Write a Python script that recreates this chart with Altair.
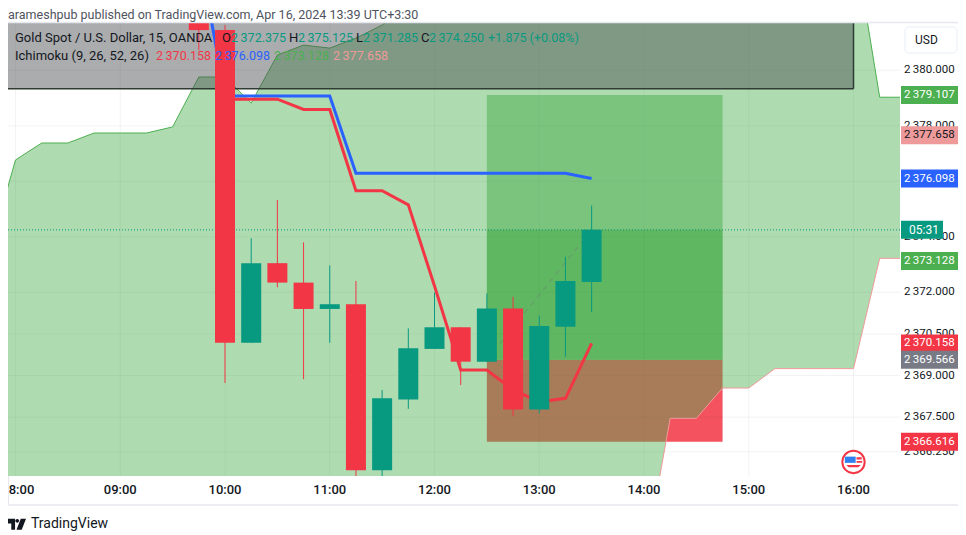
import altair as alt
import pandas as pd

# ---- data -------------------------------------------------------------
candle_time = [9.75, 10.0, 10.25, 10.5, 10.75, 11.0, 11.25, 11.5, 11.75, 12.0, 12.25, 12.5, 12.75, 13.0, 13.25, 13.5]
candle_top = [2382.2, 2381.45, 2373.05, 2373.05, 2372.35, 2371.57, 2371.57, 2368.18, 2369.98, 2370.74, 2370.74, 2371.42, 2371.42, 2370.79, 2372.41, 2374.25]
candle_bot = [2381.45, 2370.18, 2370.18, 2372.35, 2371.40, 2371.40, 2365.59, 2365.59, 2368.14, 2369.96, 2369.50, 2369.50, 2367.78, 2367.78, 2370.76, 2372.375]
candle_high = [2382.4, 2381.63, 2373.95, 2375.33, 2373.80, 2372.97, 2372.41, 2368.48, 2370.70, 2371.99, 2370.74, 2371.96, 2371.84, 2371.16, 2373.28, 2375.125]
candle_low = [2380.73, 2368.73, 2370.18, 2372.18, 2368.87, 2370.18, 2365.2, 2365.2, 2367.80, 2369.96, 2368.66, 2369.50, 2367.54, 2367.64, 2369.68, 2371.285]
candle_dir = ["down", "down", "up", "down", "down", "up", "down", "up", "up", "up", "down", "up", "down", "up", "up", "up"]

cloud_time = [7.75, 8.0, 8.25, 8.5, 8.75, 9.0, 9.25, 9.5, 9.75, 10.0, 10.25, 10.5, 10.75, 11.0, 11.25, 11.5,
              11.75, 12.0, 12.25, 12.5, 12.75, 13.0, 13.25, 13.5, 13.75, 14.0, 14.25, 14.5, 14.75, 15.0,
              15.25, 15.5, 15.75, 16.0, 16.25, 16.5]
span_a = [2373.45, 2376.77, 2377.38, 2377.38, 2377.74, 2377.74, 2377.74, 2377.96, 2379.76, 2379.76, 2378.82, 2380.55,
          2380.91, 2380.80, 2381.16, 2381.63, 2382.4, 2383.0, 2383.0, 2383.0, 2383.0, 2383.0, 2383.0, 2383.0, 2383.0,
          2383.0, 2383.0, 2383.0, 2383.0, 2383.0, 2383.0, 2383.0, 2383.0, 2384.8, 2379.03, 2379.03]
span_b = [2362.0, 2362.0, 2362.0, 2362.0, 2362.0, 2362.0, 2362.0, 2362.0, 2362.0, 2362.0, 2362.0, 2362.0,
          2362.0, 2362.0, 2362.0, 2362.0, 2362.0, 2362.0, 2362.0, 2362.0, 2362.0, 2362.0, 2362.0, 2362.0, 2362.0,
          2362.2, 2367.46, 2367.46, 2368.55, 2368.55, 2369.25, 2369.25, 2369.25, 2369.25, 2373.225, 2373.225]

kijun_time = [9.75, 10.0, 10.25, 10.5, 10.75, 11.0, 11.25, 11.5, 11.75, 12.0, 12.25, 12.5, 12.75, 13.0, 13.25, 13.5]
kijun = [2384.3, 2379.07, 2379.07, 2379.07, 2379.07, 2379.07, 2376.29, 2376.29, 2376.29, 2376.29, 2376.29, 2376.29, 2376.29, 2376.29, 2376.29, 2376.098]
tenkan_time = [10.0, 10.25, 10.5, 10.75, 11.0, 11.25, 11.5, 11.75, 12.0, 12.25, 12.5, 12.75, 13.0, 13.25, 13.5]
tenkan = [2378.96, 2378.96, 2378.96, 2378.59, 2378.59, 2375.66, 2375.66, 2375.15, 2372.23, 2369.20, 2369.20, 2368.48, 2368.05, 2368.18, 2370.158]

hours = [8, 9, 10, 11, 12, 13, 14, 15, 16]
hour_labels = ["8:00", "09:00", "10:00", "11:00", "12:00", "13:00", "14:00", "15:00", "16:00"]
price_ticks = [2380.0, 2378.0, 2376.0, 2374.0, 2372.0, 2370.5, 2369.0, 2367.5, 2366.25]
price_labels = ["2\u2009380.000", "2\u2009378.000", "2\u2009376.000", "2\u2009374.000", "2\u2009372.000",
                "2\u2009370.500", "2\u2009369.000", "2\u2009367.500", "2\u2009366.250"]

pos_start, pos_end = 12.5, 14.75
entry, target, stop, last = 2369.566, 2379.107, 2366.616, 2374.25
box_left, box_right, box_top, box_bottom = 7.5, 16.0, 2382.5, 2379.337
event_time, event_price = 16.0, 2365.885

tag_prices = [2379.107, 2377.658, 2376.098, 2373.128, 2370.158, 2369.566, 2366.616]
tag_bg = ["#4CAF50", "#EF9A9A", "#2962FF", "#4CAF50", "#F23645", "#787B86", "#F23645"]
tag_fg = ["#FFFFFF", "#131722", "#FFFFFF", "#FFFFFF", "#FFFFFF", "#FFFFFF", "#FFFFFF"]

# ---- scales -----------------------------------------------------------
FONT = "Roboto"
RED, TEAL, GREEN, BLUE, PINK = "#F23645", "#089981", "#4CAF50", "#2962FF", "#EF9A9A"
xs = alt.Scale(domain=[7.9284, 16.4439], nice=False, zero=False, padding=0)
ys = alt.Scale(domain=[2365.38, 2381.705], nice=False, zero=False, padding=0)
X = alt.X("t:Q", scale=xs, axis=None)
Y = alt.Y("p:Q", scale=ys, axis=None)


def frame(**cols):
    return alt.Chart(pd.DataFrame(cols))


def zone(p1, p2, color, opacity):
    return frame(t=[pos_start], t2=[pos_end], p=[p1], p2=[p2]).mark_rect(color=color, opacity=opacity).encode(
        x=X, x2="t2:Q", y=Y, y2="p2:Q")


def label(text, x, y, color="#131722", size=13, weight=400, align="left"):
    return frame(s=[text]).mark_text(font=FONT, fontSize=size, fontWeight=weight, color=color, align=align,
                                     baseline="middle").encode(
        x=alt.value(x - 8), y=alt.value(y - 23), text="s:N")


def hline(x1, x2, y, color="#E6E8F0", width=1.5):
    return frame(a=[0]).mark_rule(color=color, strokeWidth=width).encode(
        x=alt.value(x1 - 8), x2=alt.value(x2 - 8), y=alt.value(y - 23))


layers = []

# axis labels (the first one is cut by the left edge in the original, so it is nudged to fit)
layers.append(frame(t=hours[:1], s=hour_labels[:1]).mark_text(
    font=FONT, fontSize=13, fontWeight=500, color="#131722", baseline="middle", dx=6).encode(
    x=X, y=alt.value(467), text="s:N"))
layers.append(frame(t=hours[1:], s=hour_labels[1:]).mark_text(
    font=FONT, fontSize=13, fontWeight=500, color="#131722", baseline="middle").encode(
    x=X, y=alt.value(467), text="s:N"))
layers.append(frame(p=price_ticks, s=price_labels).mark_text(
    font=FONT, fontSize=11.5, color="#131722", align="left", baseline="middle").encode(
    x=alt.value(896), y=Y, text="s:N"))

# position tool (underneath the cloud)
layers.append(zone(entry, stop, RED, 0.86))
layers.append(zone(entry, target, GREEN, 0.52))
layers.append(zone(entry, last, GREEN, 0.6))

# grid
layers.append(frame(t=hours).mark_rule(color="#2A2E39", opacity=0.06, clip=True).encode(x=X))
layers.append(frame(p=price_ticks).mark_rule(color="#2A2E39", opacity=0.06, clip=True).encode(y=Y))

# cloud
cloud = frame(t=cloud_time, p=span_a, p2=span_b)
layers.append(cloud.mark_area(color=GREEN, opacity=0.45, clip=True).encode(x=X, y=Y, y2="p2:Q"))
layers.append(cloud.mark_line(color=GREEN, strokeWidth=1, clip=True).encode(x=X, y=Y))
layers.append(cloud.mark_line(color=PINK, strokeWidth=1, clip=True).encode(x=X, y=alt.Y("p2:Q", scale=ys, axis=None)))

# drawn rectangle at the top
layers.append(frame(t=[box_left], t2=[box_right], p=[box_top], p2=[box_bottom]).mark_rect(
    color="#4C4E52", opacity=0.47, clip=True).encode(x=X, x2="t2:Q", y=Y, y2="p2:Q"))
layers.append(frame(t=[box_left], t2=[box_right], p=[box_bottom]).mark_rule(
    color="#2F3A33", strokeWidth=1.5, clip=True).encode(x=X, x2="t2:Q", y=Y))
layers.append(frame(t=[box_right], p=[box_top], p2=[box_bottom]).mark_rule(
    color="#2F3A33", strokeWidth=1.5, clip=True).encode(x=X, y=Y, y2="p2:Q"))

# last price and entry-to-last dashed line
layers.append(frame(p=[last]).mark_rule(color=TEAL, strokeWidth=1, strokeDash=[1, 2]).encode(y=Y))
layers.append(frame(t=[pos_start, candle_time[-1]], p=[entry, last]).mark_line(
    color="#6F7F75", strokeWidth=1, strokeDash=[5, 5], opacity=0.7).encode(x=X, y=Y))

# ichimoku lines
layers.append(frame(t=kijun_time, p=kijun).mark_line(color=BLUE, strokeWidth=3, clip=True).encode(x=X, y=Y))
layers.append(frame(t=tenkan_time, p=tenkan).mark_line(color=RED, strokeWidth=3, clip=True).encode(x=X, y=Y))

# candles
candles = frame(t=candle_time, p=candle_top, p2=candle_bot, h=candle_high, l=candle_low, d=candle_dir)
col = alt.Color("d:N", scale=alt.Scale(domain=["up", "down"], range=[TEAL, RED]), legend=None)
layers.append(candles.mark_rule(strokeWidth=1, clip=True).encode(
    x=X, y=alt.Y("h:Q", scale=ys, axis=None), y2="l:Q", color=col))
layers.append(candles.mark_bar(size=20, orient="vertical", clip=True).encode(x=X, y=Y, y2="p2:Q", color=col))

# economic event icon
ev = frame(t=[event_time], p=[event_price])
layers.append(ev.mark_point(shape="circle", filled=False, fill="#FFFFFF", fillOpacity=1, stroke=RED, strokeWidth=2,
                            opacity=1, size=500).encode(x=X, y=Y))
layers.append(ev.mark_point(shape="M-1 -0.62 L0.25 -0.62 L0.25 0.1 L-1 0.1 Z", filled=True, color="#2F80ED",
                            opacity=1, size=300).encode(x=X, y=Y))
layers.append(ev.mark_point(shape="M-0.85 0.35 L0.85 0.35 L0.55 0.62 L-0.55 0.62 Z M0.35 -0.55 L0.95 -0.55 L0.95 -0.3 L0.35 -0.3 Z M0.35 -0.1 L1 -0.1 L1 0.1 L0.35 0.1 Z",
                            filled=True, color=RED, opacity=1, size=300).encode(x=X, y=Y))

# price tags
for price, bg, fg in zip(tag_prices, tag_bg, tag_fg):
    row = frame(p=[price], s=["2\u2009" + f"{price - 2000:.3f}"])
    layers.append(row.mark_rule(color=bg, strokeWidth=18).encode(x=alt.value(893), x2=alt.value(950), y=Y))
    layers.append(row.mark_text(font=FONT, fontSize=11.5, color=fg, align="left", baseline="middle").encode(
        x=alt.value(896), y=Y, text="s:N"))
clock = frame(p=[last], s=["05:31"])
layers.append(clock.mark_rule(color=TEAL, strokeWidth=18).encode(x=alt.value(893), x2=alt.value(935), y=Y))
layers.append(clock.mark_text(font=FONT, fontSize=12, color="#FFFFFF", align="left", baseline="middle").encode(
    x=alt.value(901), y=Y, text="s:N"))

# currency button
layers.append(frame(a=[0]).mark_rect(fill="#FFFFFF", stroke="#F0F3FA", strokeWidth=1.5, cornerRadius=4).encode(
    x=alt.value(897), x2=alt.value(949), y=alt.value(4), y2=alt.value(30)))
layers.append(label("USD", 915, 40, size=12))

# frame lines
layers.append(hline(8, 958, 22.5))
layers.append(hline(8, 958, 505))
layers.append(frame(a=[0]).mark_rule(color="#E6E8F0", strokeWidth=1).encode(
    x=alt.value(0.5), y=alt.value(453), y2=alt.value(482)))

# legend and header texts
layers.append(label("arameshpub published on TradingView.com, Apr 16, 2024 13:39 UTC+3:30", 8, 15, "#50535E", 12.5))
layers.append(label("Gold Spot / U.S. Dollar, 15, OANDA", 15, 37.5, "#131722", 13))
for text, x in [("O", 222), ("H", 289), ("L", 356), ("C", 421)]:
    layers.append(label(text, x, 37.5, "#131722", 13))
for text, x in [("2\u2009372.375", 231), ("2\u2009375.125", 298), ("2\u2009371.285", 363),
                ("2\u2009374.250", 429), ("+1.875 (+0.08%)", 488)]:
    layers.append(label(text, x, 37.5, TEAL, 12.5))
layers.append(label("Ichimoku (9, 26, 52, 26)", 15, 55.5, "#131722", 13))
for text, x, c in [("2\u2009370.158", 156, RED), ("2\u2009376.098", 215, BLUE),
                   ("2\u2009373.128", 274, GREEN), ("2\u2009377.658", 333, PINK)]:
    layers.append(label(text, x, 55.5, c, 12.5))

# footer logo
layers.append(frame(a=[0]).mark_point(
    shape="M-1 -0.55 L-0.15 -0.55 L-0.15 0.6 L-0.55 0.6 L-0.55 -0.05 L-1 -0.05 Z M0.45 -0.55 L1 -0.55 L0.55 0.6 L0 0.6 Z M0.28 -0.33 A0.2 0.2 0 1 1 -0.12 -0.33 A0.2 0.2 0 1 1 0.28 -0.33 Z",
    filled=True, color="#131722", opacity=1, size=361).encode(x=alt.value(8.5), y=alt.value(501)))
layers.append(label("TradingView", 31, 524, "#131722", 14))

chart = alt.layer(*layers).properties(
    width=892, height=453,
    padding={"left": 0, "top": 15, "right": 58, "bottom": 58},
    autosize=alt.AutoSizeParams(type="none"),
    background="#FFFFFF",
).configure_view(stroke=None)

chart.save("out.html", embed_options={"renderer": "svg", "actions": False})
